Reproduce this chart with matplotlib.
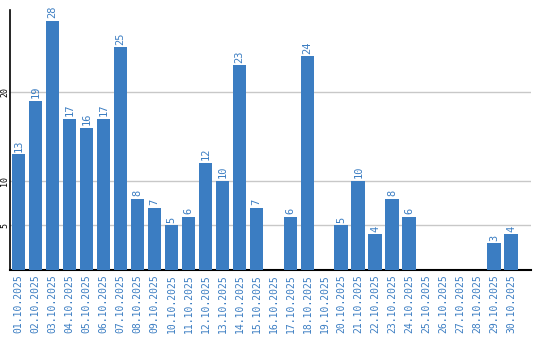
import matplotlib
matplotlib.use("Agg")
import matplotlib.pyplot as plt

dates = [f"{d:02d}.10.2025" for d in range(1, 31)]
values = [13, 19, 28, 17, 16, 17, 25, 8, 7, 5, 6, 12, 10, 23, 7, 0, 6, 24, 0, 5,
          10, 4, 8, 6, 0, 0, 0, 0, 3, 4]
yticks = [5, 10, 20]

bar_color = "#3b7dc2"
text_color = "#3b7dc2"

fig = plt.figure(figsize=(5.4, 3.4), dpi=100)
ax = fig.add_axes([10/540, 1-270/340, 521/540, 260/340])

x = list(range(len(values)))
ax.bar(x, values, width=0.82, color=bar_color, zorder=3)
for xi, v in zip(x, values):
    if v > 0:
        ax.text(xi, v + 0.3, str(v), rotation=90, ha="center", va="bottom",
                color=text_color, fontsize=7.5, family="DejaVu Sans Mono")

ax.set_xlim(-0.5, 30.15)
ax.set_ylim(0, 29.2)
ax.set_yticks(yticks)
ax.set_yticklabels([str(t) for t in yticks], rotation=90, va="center",
                   fontsize=6, family="DejaVu Sans Mono")
ax.set_xticks(x)
ax.set_xticklabels(dates, rotation=90, color=text_color, fontsize=7,
                   family="DejaVu Sans Mono")
ax.tick_params(axis="x", length=0, pad=3)
ax.tick_params(axis="y", length=0, pad=0.5)
ax.grid(axis="y", color="#c8c8c8", linewidth=1, zorder=0)
for s in ["top", "right"]:
    ax.spines[s].set_visible(False)
ax.spines["left"].set_linewidth(1.2)
ax.spines["bottom"].set_linewidth(1.5)

fig.savefig("out.png", dpi=100)
